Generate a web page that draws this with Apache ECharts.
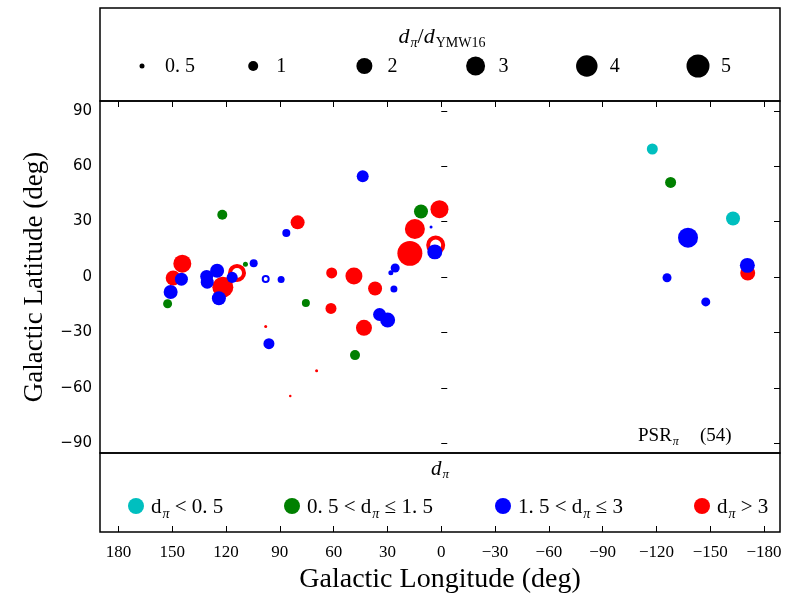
<!DOCTYPE html>
<html>
<head>
<meta charset="utf-8">
<script src="https://cdn.jsdelivr.net/npm/echarts@6/dist/echarts.min.js"></script>
<style>
  html, body { margin: 0; padding: 0; background: #fff; }
  #chart { width: 796px; height: 595px; }
</style>
</head>
<body>
<div id="chart"></div>
<script>
// Pulsars with parallax distances: [longitude (deg), latitude (deg), d_pi / d_YMW16]
const nearLt05 = [
  [-117.7, 69.3, 1.17], [-162.7, 31.7, 1.67]
];
const near05to15 = [
  [122.1, 33.7, 1.0], [11.3, 35.5, 1.67], [109.2, 6.9, 0.5], [152.6, -14.5, 0.9],
  [75.5, -14.1, 0.8], [48.1, -42.3, 1.0], [-127.9, 51.2, 1.17]
];
const mid15to3 = [
  [43.8, 54.5, 1.33], [86.4, 23.8, 0.8], [5.7, 27.1, 0.3], [3.6, 13.6, 1.83],
  [144.9, -1.2, 1.5], [150.9, -8.1, 1.67], [130.8, 0.3, 1.5], [130.5, -2.8, 1.5],
  [125.0, 3.4, 1.67], [124.0, -11.5, 1.67], [116.6, -0.2, 1.17], [104.6, 7.5, 0.8],
  [89.3, -1.4, 0.7], [25.7, 4.9, 0.9], [28.1, 2.3, 0.5], [26.4, -6.5, 0.7],
  [34.4, -20.3, 1.5], [29.9, -23.3, 1.83], [96.1, -36.1, 1.17], [-137.6, 21.3, 3.4],
  [-125.9, -0.4, 0.9], [-170.7, 6.3, 1.83], [-147.5, -13.5, 0.9]
];
const mid15to3Open = [
  [97.9, -1.1, 0.8]
];
const farGt3 = [
  [80.1, 29.6, 1.67], [1.0, 36.7, 2.67], [14.7, 26.0, 3.4], [17.5, 12.8, 6.3],
  [144.4, 7.2, 2.67], [149.5, -0.5, 1.83], [121.8, -5.5, 3.8], [61.1, 2.2, 1.17],
  [48.7, 0.5, 2.33], [36.9, -6.2, 1.67], [61.5, -17.0, 1.17], [43.1, -27.5, 2.0],
  [97.9, -26.8, 0.3], [69.5, -50.8, 0.3], [84.2, -64.4, 0.25], [-170.9, 2.2, 1.83]
];
const farGt3Open = [
  [3.1, 17.3, 3.0], [113.9, 2.2, 2.67]
];

const lonTicks = [180, 150, 120, 90, 60, 30, 0, -30, -60, -90, -120, -150, -180];
const latTicks = [90, 60, 30, 0, -30, -60, -90];
const ratioKeys = [0.5, 1, 2, 3, 4, 5];
const ratioKeyLabels = ['0. 5', '1', '2', '3', '4', '5'];
const psrCount = 54;

const SERIF = '"Liberation Serif", "DejaVu Serif", serif';
const SANS = '"DejaVu Sans", sans-serif';
const COLORS = { c: '#00BFBF', g: '#008000', b: '#0000FF', r: '#FF0000' };

// marker diameter (px) as a function of the distance ratio
const sizeStops = [[0, 0], [0.5, 5], [1, 10], [2, 16], [3, 19], [4, 21.5], [5, 23], [8, 27.5]];
function markerSize(r) {
  for (let i = 1; i < sizeStops.length; i++) {
    const [r0, d0] = sizeStops[i - 1], [r1, d1] = sizeStops[i];
    if (r <= r1) return d0 + (d1 - d0) * (r - r0) / (r1 - r0);
  }
  return sizeStops[sizeStops.length - 1][1];
}
const fmtMinus = v => (v < 0 ? '\u2212' + (-v) : String(v));

const LEFT = 100, RIGHT = 16;
const LON_MIN = -188.9, LON_MAX = 190.3;
const LAT_LIM = 95.3;

const chart = echarts.init(document.getElementById('chart'), null, { renderer: 'canvas' });

const gridBox = { show: true, borderColor: '#000', borderWidth: 1.5, backgroundColor: 'transparent', left: LEFT, right: RIGHT };

function lonAxis(gridIndex, opts) {
  return Object.assign({
    type: 'value', gridIndex, min: LON_MIN, max: LON_MAX, inverse: true,
    splitLine: { show: false }, axisLine: { show: false },
    axisTick: { show: false }, axisLabel: { show: false }
  }, opts);
}

// rich-text styles: regular, italic and subscript fragments (subscripts pushed down by top padding)
function richSet(size, subSize, drop, colorKey) {
  const base = { fontFamily: SERIF, fontSize: size, verticalAlign: 'top' };
  const sub = { fontFamily: SERIF, fontSize: subSize, verticalAlign: 'top', padding: [drop, 0, 0, 1] };
  const c = {}; c[colorKey] = '#000';
  return {
    t: Object.assign({}, base, c),
    i: Object.assign({ fontStyle: 'italic' }, base, c),
    s: Object.assign({ fontStyle: 'italic' }, sub, c),
    r: Object.assign({}, sub, c)
  };
}

const names = { c: 'c_lt05', g: 'g_05_15', b: 'b_15_3', r: 'r_gt3' };
const legendText = {
  c_lt05: '{t|d}{s|\u03c0}{t| < 0. 5}',
  g_05_15: '{t|0. 5 < d}{s|\u03c0}{t| \u2264 1. 5}',
  b_15_3: '{t|1. 5 < d}{s|\u03c0}{t| \u2264 3}',
  r_gt3: '{t|d}{s|\u03c0}{t| > 3}'
};
const legendOrder = ['c', 'g', 'b', 'r'];
const legendLeft = [123, 279, 490, 689];

function scatter(name, data, color, hollow, ringWidth) {
  return {
    type: 'scatter', name, data, xAxisIndex: 1, yAxisIndex: 1,
    symbol: 'circle',
    symbolSize: v => hollow ? markerSize(v[2]) - ringWidth : markerSize(v[2]),
    itemStyle: hollow
      ? { color: 'rgba(255,255,255,0)', borderColor: color, borderWidth: ringWidth, opacity: 1 }
      : { color, opacity: 1 },
    emphasis: { disabled: true },
    silent: true
  };
}

// size key for d_pi / d_YMW16 in the upper panel
const keyY = 66, keyX0 = 142, keyStep = 111.2;
const sizeKeyGraphics = [];
ratioKeys.forEach((k, i) => {
  const x = keyX0 + i * keyStep;
  sizeKeyGraphics.push({
    type: 'circle', shape: { cx: x, cy: keyY, r: markerSize(k) / 2 },
    style: { fill: '#000' }, silent: true
  });
  sizeKeyGraphics.push({
    type: 'text', x: x + 23, y: keyY + 1,
    style: { text: ratioKeyLabels[i], font: '20px ' + SERIF, fill: '#000', verticalAlign: 'middle', align: 'left' },
    silent: true
  });
});

const option = {
  animation: false,
  backgroundColor: '#fff',
  grid: [
    Object.assign({ top: 8, height: 93 }, gridBox),
    Object.assign({ top: 101, height: 352 }, gridBox),
    Object.assign({ top: 453, height: 82 }, gridBox)
  ],
  xAxis: [
    lonAxis(0, { position: 'top', axisTick: { show: true, inside: true, length: 6, lineStyle: { color: '#000', width: 1 }, customValues: lonTicks } }),
    lonAxis(1, {}),
    lonAxis(2, {
      position: 'bottom',
      axisTick: { show: true, inside: true, length: 6, lineStyle: { color: '#000', width: 1 }, customValues: lonTicks },
      axisLabel: { show: true, customValues: lonTicks, formatter: fmtMinus, fontFamily: SERIF, fontSize: 17, color: '#000', margin: 12 },
      name: 'Galactic Longitude (deg)', nameLocation: 'middle', nameGap: 34,
      nameTextStyle: { fontFamily: SERIF, fontSize: 28, color: '#000' }
    })
  ],
  yAxis: [
    { type: 'value', gridIndex: 0, min: 0, max: 1, show: false },
    {
      type: 'value', gridIndex: 1, min: -LAT_LIM, max: LAT_LIM, position: 'left',
      splitLine: { show: false }, axisLine: { show: false },
      axisTick: { show: true, inside: true, length: 6, lineStyle: { color: '#000' }, customValues: latTicks },
      axisLabel: { show: true, customValues: latTicks, formatter: fmtMinus, fontFamily: SANS, fontSize: 15, color: '#000', margin: 8 },
      name: 'Galactic Latitude (deg)', nameLocation: 'middle', nameGap: 52, nameRotate: 90,
      nameTextStyle: { fontFamily: SERIF, fontSize: 27, color: '#000' }
    },
    {
      type: 'value', gridIndex: 1, min: -LAT_LIM, max: LAT_LIM, position: 'right',
      splitLine: { show: false }, axisLine: { show: false },
      axisTick: { show: true, inside: true, length: 6, lineStyle: { color: '#000' }, customValues: latTicks },
      axisLabel: { show: false }
    },
    { type: 'value', gridIndex: 2, min: 0, max: 1, show: false }
  ],
  legend: legendOrder.map((k, i) => ({
    data: [{ name: names[k], itemStyle: { color: COLORS[k] } }],
    left: legendLeft[i], top: 492, icon: 'circle', itemWidth: 16, itemHeight: 16, itemGap: 0,
    selectedMode: false,
    formatter: n => legendText[n],
    textStyle: { rich: richSet(21, 14, 10, 'color'), padding: [6, 0, 0, 2] }
  })),
  graphic: [
    {
      type: 'text', x: 442, y: 38,
      style: {
        text: '{i|d}{s|\u03c0}{t|/}{i|d}{r|YMW16}',
        align: 'center', verticalAlign: 'middle',
        rich: richSet(22, 14, 10, 'fill')
      },
      silent: true
    },
    {
      type: 'text', x: 440, y: 470,
      style: {
        text: '{i|d}{s|\u03c0}',
        align: 'center', verticalAlign: 'middle',
        rich: richSet(21, 13, 9, 'fill')
      },
      silent: true
    },
    {
      type: 'text', x: 638, y: 437,
      style: {
        text: '{t|PSR}{s|\u03c0}',
        align: 'left', verticalAlign: 'middle',
        rich: richSet(19, 12, 9, 'fill')
      },
      silent: true
    },
    {
      type: 'text', x: 700, y: 436,
      style: { text: '(' + psrCount + ')', font: '19px ' + SERIF, fill: '#000', align: 'left', verticalAlign: 'middle' },
      silent: true
    }
  ].concat(sizeKeyGraphics),
  series: [
    scatter(names.c, nearLt05, COLORS.c, false),
    scatter(names.g, near05to15, COLORS.g, false),
    scatter(names.r, farGt3, COLORS.r, false),
    scatter('r_gt3_open', farGt3Open, COLORS.r, true, 4),
    scatter(names.b, mid15to3, COLORS.b, false),
    scatter('b_15_3_open', mid15to3Open, COLORS.b, true, 2)
  ]
};

chart.setOption(option);
</script>
</body>
</html>
